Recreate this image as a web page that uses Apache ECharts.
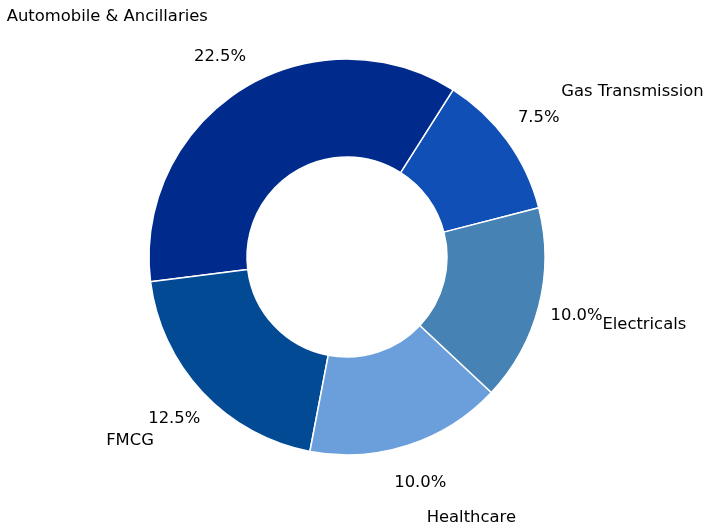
<!DOCTYPE html>
<html>
<head>
<meta charset="utf-8">
<script src="https://cdn.jsdelivr.net/npm/echarts@6/dist/echarts.min.js"></script>
<style>
html,body{margin:0;padding:0;background:#fff;}
#chart{width:704px;height:530px;}
</style>
</head>
<body>
<div id="chart"></div>
<script>
const categories = ['Gas Transmission', 'Automobile & Ancillaries', 'FMCG', 'Healthcare', 'Electricals'];
const values = [7.5, 22.5, 12.5, 10.0, 10.0];
const colors = ['#0f4fb6', '#002b8c', '#024b94', '#6a9fdc', '#4682b4'];
// per-slice label offsets (layout only)
const nameLineLen = [83, 86, 71, 76, 76];
const nameLineLen2 = [-13, -13, -3, -5, -10];

const chart = echarts.init(document.getElementById('chart'), null, {renderer: 'canvas'});
const font = {fontFamily: 'DejaVu Sans', fontSize: 16.4, color: '#000'};

const mainData = categories.map((c, i) => ({
  name: c,
  value: values[i],
  itemStyle: {color: colors[i]},
  labelLine: {show: false, length: nameLineLen[i], length2: nameLineLen2[i]}
}));
const pctData = categories.map((c, i) => ({name: c, value: values[i]}));

chart.setOption({
  animation: false,
  backgroundColor: '#fff',
  series: [
    {
      type: 'pie',
      center: [347, 257],
      radius: [100, 198],
      startAngle: 14.4,
      clockwise: false,
      avoidLabelOverlap: false,
      silent: true,
      itemStyle: {borderColor: '#fff', borderWidth: 1.5},
      label: Object.assign({show: true, position: 'outside', formatter: '{b}', distanceToLabelLine: 0}, font),
      labelLine: {show: false},
      labelLayout: {hideOverlap: false},
      emphasis: {disabled: true},
      data: mainData
    },
    {
      type: 'pie',
      center: [347, 257],
      radius: [233, 235],
      startAngle: 14.4,
      clockwise: false,
      avoidLabelOverlap: false,
      silent: true,
      itemStyle: {color: 'rgba(0,0,0,0)', borderWidth: 0},
      label: Object.assign({show: true, position: 'inside', formatter: p => p.value.toFixed(1) + '%'}, font),
      labelLine: {show: false},
      labelLayout: {hideOverlap: false},
      emphasis: {disabled: true},
      data: pctData
    }
  ]
});
</script>
</body>
</html>
